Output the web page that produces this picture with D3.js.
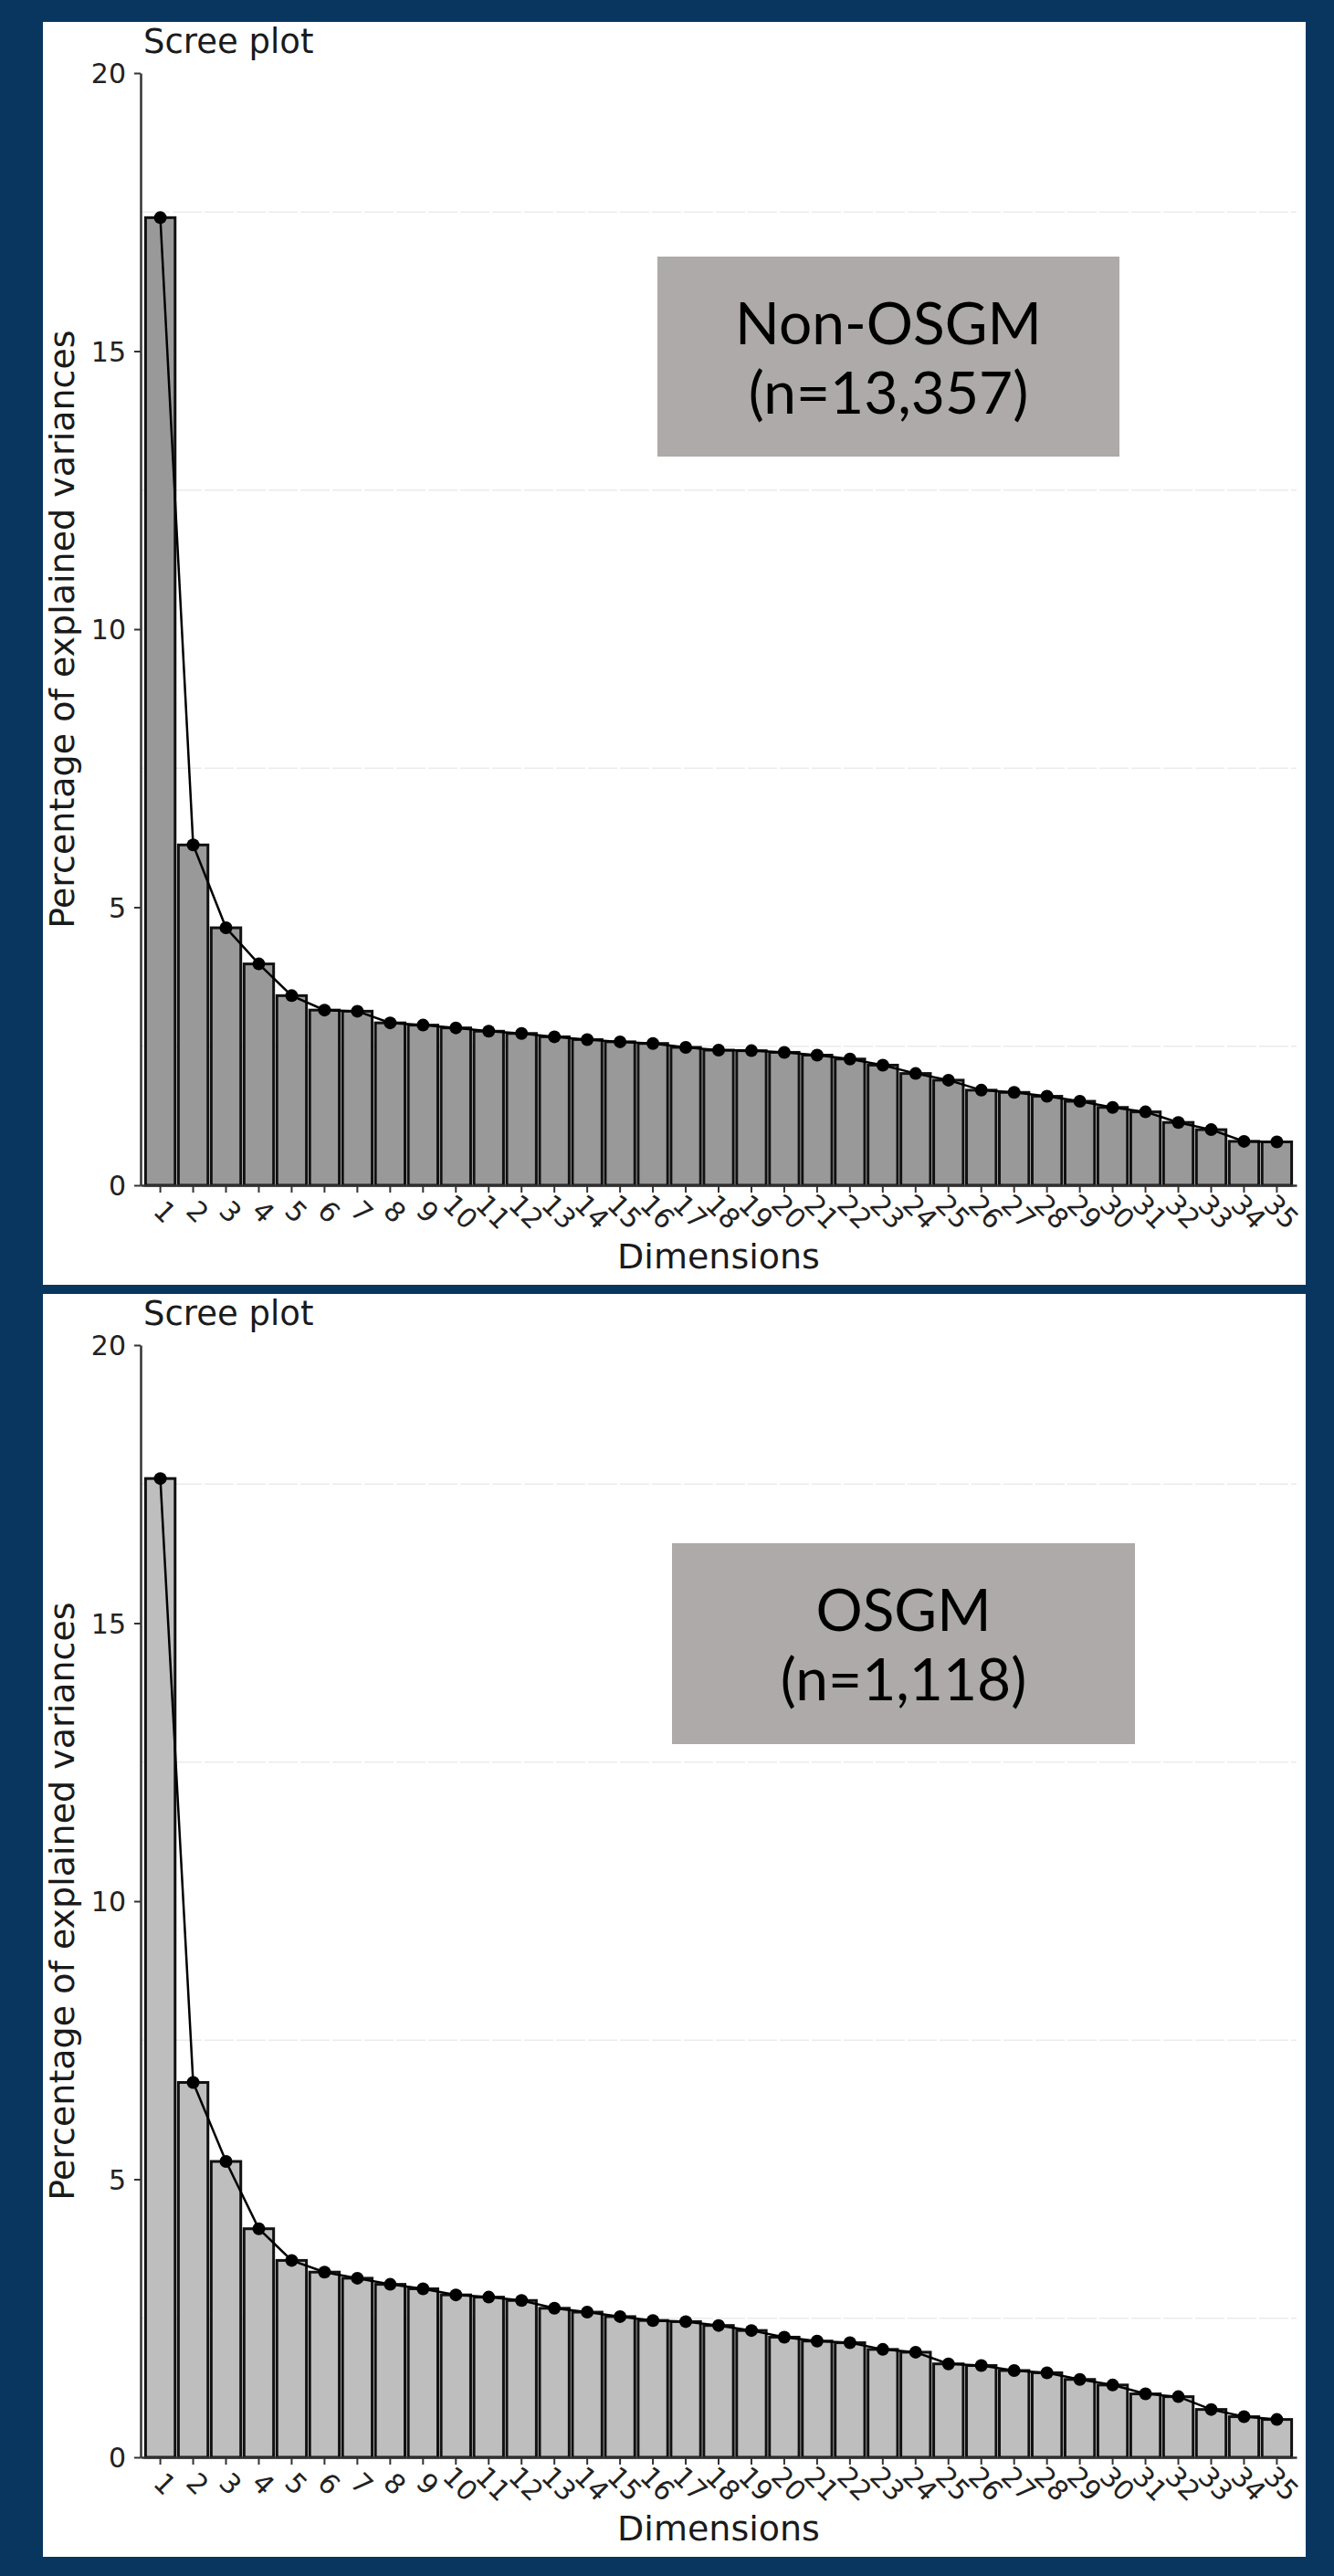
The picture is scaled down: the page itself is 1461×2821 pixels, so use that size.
<!DOCTYPE html>
<html>
<head>
<meta charset="utf-8">
<script src="https://cdn.jsdelivr.net/npm/d3@7"></script>
<style>
  body { margin: 0; background: #08365f; }
  svg { display: block; }
</style>
</head>
<body>
<script>
var w = 1461;
var h = 2821;

// ---- data ----
var dims = ["1","2","3","4","5","6","7","8","9","10","11","12","13","14","15","16","17","18",
            "19","20","21","22","23","24","25","26","27","28","29","30","31","32","33","34","35"];

var nonOsgmValues = [17.40, 6.12, 4.63, 3.98, 3.41, 3.15, 3.13, 2.92, 2.88, 2.83, 2.77, 2.73,
                     2.67, 2.62, 2.58, 2.55, 2.48, 2.43, 2.42, 2.39, 2.34, 2.27, 2.16, 2.01,
                     1.89, 1.71, 1.67, 1.60, 1.51, 1.40, 1.32, 1.13, 1.00, 0.79, 0.78];

var osgmValues = [17.60, 6.74, 5.32, 4.11, 3.54, 3.33, 3.22, 3.11, 3.03, 2.92, 2.88, 2.82,
                  2.68, 2.61, 2.53, 2.46, 2.44, 2.37, 2.28, 2.16, 2.09, 2.06, 1.94, 1.89,
                  1.68, 1.65, 1.56, 1.52, 1.40, 1.30, 1.14, 1.09, 0.86, 0.73, 0.68];

var yTicks = [0, 5, 10, 15, 20];
var gridValues = [2.5, 7.5, 12.5, 17.5];

var nonOsgmLabel = ["Non-OSGM", "(n=13,357)"];
var osgmLabel = ["OSGM", "(n=1,118)"];

// ---- layout ----
var panelX = 47;
var panelSize = 1383;

var panels = [
    {values: nonOsgmValues, fill: "#999999", label: nonOsgmLabel, top: 24,
     box: {x: 673, y: 257, w: 506, h: 219}},
    {values: osgmValues, fill: "#bebebe", label: osgmLabel, top: 1417,
     box: {x: 689, y: 273, w: 507, h: 220}}
];

var svg = d3.select("body")
    .append("svg")
    .attr("width", w)
    .attr("height", h);

svg.append("rect")
    .attr("width", w)
    .attr("height", h)
    .attr("fill", "#08365f");

panels.forEach(drawPanel);

function drawPanel(p){
    var g = svg.append("g")
        .attr("transform", "translate(" + panelX + "," + p.top + ")");

    g.append("rect")
        .attr("width", panelSize)
        .attr("height", panelSize)
        .attr("fill", "#ffffff");

    var x = d3.scaleBand()
        .domain(dims)
        .range([107, 1373])
        .paddingInner(0.1)
        .paddingOuter(0.15);

    var y = d3.scaleLinear()
        .domain([0, 20])
        .range([1274, 56]);

    var bw = x.bandwidth();
    var rows = dims.map(function(d, i){ return {dim: d, v: p.values[i]}; });

    //---grid-----
    g.selectAll(".grid")
        .data(gridValues)
        .enter().append("line")
        .attr("x1", 107)
        .attr("x2", 1373)
        .attr("y1", function(d){ return y(d); })
        .attr("y2", function(d){ return y(d); })
        .attr("stroke", "#ebebeb")
        .attr("stroke-width", 1.5)
        .attr("stroke-dasharray", "32,3");

    //---bars-----
    g.selectAll(".bar")
        .data(rows)
        .enter().append("rect")
        .attr("x", function(d){ return x(d.dim); })
        .attr("y", function(d){ return y(d.v); })
        .attr("width", bw)
        .attr("height", function(d){ return y(0) - y(d.v); })
        .attr("fill", p.fill)
        .attr("stroke", "#111111")
        .attr("stroke-width", 3);

    //---line + points-----
    var line = d3.line()
        .x(function(d){ return x(d.dim) + bw / 2; })
        .y(function(d){ return y(d.v); });

    g.append("path")
        .datum(rows)
        .attr("d", line)
        .attr("fill", "none")
        .attr("stroke", "#000000")
        .attr("stroke-width", 2.5);

    g.selectAll(".pt")
        .data(rows)
        .enter().append("circle")
        .attr("cx", function(d){ return x(d.dim) + bw / 2; })
        .attr("cy", function(d){ return y(d.v); })
        .attr("r", 7)
        .attr("fill", "#000000");

    //---axes-----
    var yAxis = g.append("g")
        .attr("transform", "translate(107,0)")
        .call(d3.axisLeft(y).tickValues(yTicks).tickSize(7).tickSizeOuter(0).tickPadding(9));

    var xAxis = g.append("g")
        .attr("transform", "translate(0,1274)")
        .call(d3.axisBottom(x).tickSize(8).tickSizeOuter(0));

    [yAxis, xAxis].forEach(function(a){
        a.select(".domain").attr("stroke", "#333333").attr("stroke-width", 2.5);
        a.selectAll(".tick line").attr("stroke", "#333333").attr("stroke-width", 2);
        a.selectAll("text")
            .attr("font-family", "DejaVu Sans")
            .attr("font-size", 30)
            .attr("fill", "#222222");
    });

    yAxis.selectAll("text").attr("dy", "0.36em");

    xAxis.selectAll("text")
        .attr("y", 0)
        .attr("dy", "0.35em")
        .attr("text-anchor", "middle")
        .attr("transform", "translate(5,29) rotate(45)");

    //---titles-----
    g.append("text")
        .text("Scree plot")
        .attr("x", 110)
        .attr("y", 34)
        .attr("font-size", 37)
        .attr("font-family", "DejaVu Sans")
        .attr("fill", "#1a1a1a");

    g.append("text")
        .text("Dimensions")
        .attr("x", 740)
        .attr("y", 1365)
        .attr("text-anchor", "middle")
        .attr("font-size", 38)
        .attr("font-family", "DejaVu Sans")
        .attr("fill", "#1a1a1a");

    g.append("text")
        .text("Percentage of explained variances")
        .attr("transform", "translate(34,665) rotate(-90)")
        .attr("text-anchor", "middle")
        .attr("font-size", 38)
        .attr("font-family", "DejaVu Sans")
        .attr("fill", "#1a1a1a");

    //---label box-----
    g.append("rect")
        .attr("x", p.box.x)
        .attr("y", p.box.y)
        .attr("width", p.box.w)
        .attr("height", p.box.h)
        .attr("fill", "#adaaa9");

    g.selectAll(".boxtext")
        .data(p.label)
        .enter().append("text")
        .text(function(d){ return d; })
        .attr("x", p.box.x + p.box.w / 2)
        .attr("y", function(d, i){ return p.box.y + 96 + i * 76; })
        .attr("text-anchor", "middle")
        .attr("font-size", 64)
        .attr("font-family", "Lato")
        .attr("fill", "#000000");
}
</script>
</body>
</html>
